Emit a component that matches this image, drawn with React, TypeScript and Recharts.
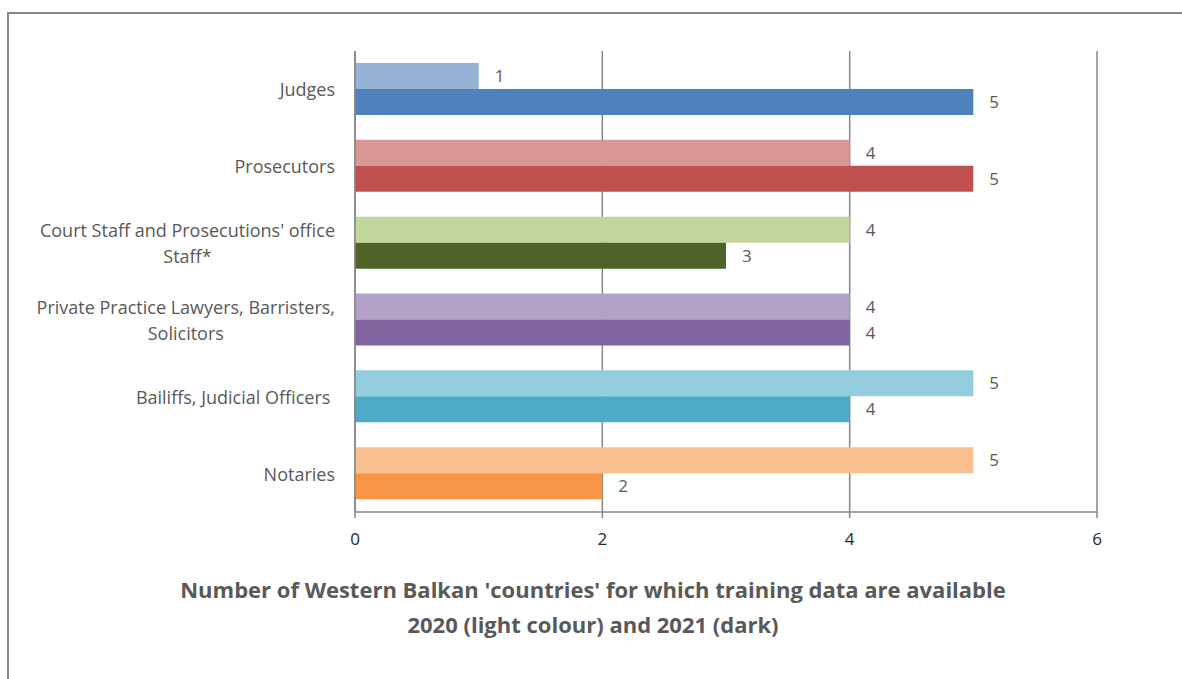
import { Bar, BarChart, CartesianGrid, Cell, LabelList, XAxis, YAxis } from "recharts";

// 2020 = light colour, 2021 = dark colour
const categories = [
  "Judges",
  "Prosecutors",
  "Court Staff and Prosecutions' office\nStaff*",
  "Private Practice Lawyers, Barristers,\nSolicitors",
  "Bailiffs, Judicial Officers ",
  "Notaries",
];
const values2020 = [1, 4, 4, 4, 5, 5];
const values2021 = [5, 5, 3, 4, 4, 2];
const lightColours = ["#95B3D7", "#D99694", "#C3D69B", "#B2A2C7", "#93CDDD", "#FAC090"];
const darkColours = ["#4F81BD", "#C0504D", "#4F6228", "#8064A2", "#4BACC6", "#F79646"];
const xTicks = [0, 2, 4, 6];
const titleLines = [
  "Number of Western Balkan 'countries' for which training data are available",
  "2020 (light colour) and 2021 (dark)",
];

const data = categories.map((name, i) => ({
  name,
  y2020: values2020[i],
  y2021: values2021[i],
}));

const FONT = "'Open Sans', sans-serif";
const TEXT = "#595959";
const GRID = "#868686";

const CategoryTick = (props: any) => {
  const { x, y, payload } = props;
  const lines = String(payload.value).split("\n");
  const lh = 26;
  const w = 345;
  const h = lines.length * lh;
  return (
    <foreignObject x={x - 12 - w} y={y - h / 2} width={w} height={h}>
      <div style={{ display: "flex", justifyContent: "flex-end", width: w }}>
        <div
          style={{
            textAlign: "center",
            whiteSpace: "pre",
            lineHeight: `${lh}px`,
            fontSize: 18,
            color: TEXT,
            fontFamily: FONT,
          }}
        >
          {payload.value}
        </div>
      </div>
    </foreignObject>
  );
};

export default function App() {
  return (
    <div
      style={{
        position: "relative",
        width: 1182,
        height: 679,
        overflow: "hidden",
        background: "#fff",
        fontFamily: FONT,
      }}
    >
      <style>{`body{margin:0}`}</style>
      <div
        style={{
          position: "absolute",
          left: 7,
          top: 12,
          width: 1300,
          height: 800,
          borderLeft: `2px solid ${GRID}`,
          borderTop: `2px solid ${GRID}`,
        }}
      />
      <BarChart
        width={1182}
        height={679}
        data={data}
        layout="vertical"
        barGap={0}
        barSize={26}
        margin={{ top: 51, right: 85, bottom: 137, left: 0 }}
        style={{ position: "absolute", left: 0, top: 0 }}
      >
        <CartesianGrid horizontal={false} stroke={GRID} strokeWidth={1.5} />
        <XAxis
          type="number"
          domain={[0, 6]}
          ticks={xTicks}
          height={30}
          stroke={GRID}
          strokeWidth={1.5}
          tickSize={6}
          tickMargin={15}
          tick={{ fill: "#262626", fontSize: 17, fontFamily: FONT }}
        />
        <YAxis
          yAxisId="frame"
          type="number"
          domain={[0, 6]}
          ticks={[0, 1, 2, 3, 4, 5, 6]}
          width={0}
          tick={false}
          tickSize={6}
          axisLine={false}
          stroke={GRID}
          strokeWidth={1.5}
        />
        <YAxis
          type="category"
          dataKey="name"
          width={355}
          interval={0}
          tickLine={false}
          stroke={GRID}
          strokeWidth={1.5}
          tick={<CategoryTick />}
        />
        <Bar dataKey="y2020" isAnimationActive={false}>
          {data.map((d, i) => (
            <Cell key={d.name} fill={lightColours[i]} />
          ))}
          <LabelList
            dataKey="y2020"
            position="right"
            offset={16}
            fill={TEXT}
            fontSize={17}
            fontFamily={FONT}
          />
        </Bar>
        <Bar dataKey="y2021" isAnimationActive={false}>
          {data.map((d, i) => (
            <Cell key={d.name} fill={darkColours[i]} />
          ))}
          <LabelList
            dataKey="y2021"
            position="right"
            offset={16}
            fill={TEXT}
            fontSize={17}
            fontFamily={FONT}
          />
        </Bar>
      </BarChart>
      <div
        style={{
          position: "absolute",
          left: 0,
          width: 1186,
          top: 572,
          textAlign: "center",
          fontWeight: 700,
          fontSize: 22,
          lineHeight: "35px",
          color: TEXT,
        }}
      >
        {titleLines.map((t) => (
          <div key={t}>{t}</div>
        ))}
      </div>
    </div>
  );
}
